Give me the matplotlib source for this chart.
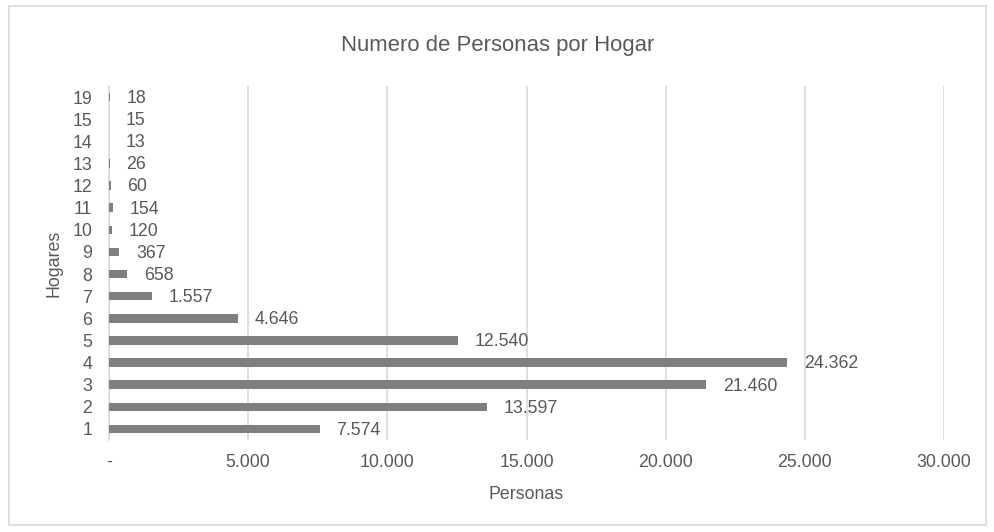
"""Numero de Personas por Hogar - horizontal bar chart."""

import matplotlib

matplotlib.use("Agg")
import matplotlib.pyplot as plt
from matplotlib.patches import Rectangle
from matplotlib.ticker import FuncFormatter

hogares = ["1", "2", "3", "4", "5", "6", "7", "8", "9", "10", "11", "12", "13", "14", "15", "19"]
personas = [7574, 13597, 21460, 24362, 12540, 4646, 1557, 658, 367, 120, 154, 60, 26, 13, 15, 18]

TEXT = "#595959"
GRID = "#d9d9d9"
BAR = "#7f7f7f"
FS = 12.8

plt.rcParams["font.family"] = ["Liberation Sans", "DejaVu Sans"]


def miles(v):
    # Spanish thousands separator, "-" for zero
    if v == 0:
        return "-"
    return f"{v:,.0f}".replace(",", ".")


fig = plt.figure(figsize=(9.95, 5.32), dpi=100)
fig.patches.append(Rectangle((9 / 995, 1 - 525 / 532), 977 / 995, 519 / 532,
                             transform=fig.transFigure, fill=False,
                             edgecolor=GRID, linewidth=1.2))
ax = fig.add_axes([109 / 995, 1 - 440 / 532, 835 / 995, 354 / 532])

ypos = list(range(len(hogares)))
ax.barh(ypos, personas, height=0.38, color=BAR, zorder=3)
for y, v in zip(ypos, personas):
    ax.annotate(miles(v), (v, y), xytext=(12, -1), textcoords="offset points",
                va="center", ha="left", fontsize=FS, color=TEXT)

ax.set_xlim(0, 30000)
ax.set_ylim(-0.5, len(hogares) - 0.5)
ax.set_xticks(range(0, 30001, 5000))
ax.xaxis.set_major_formatter(FuncFormatter(lambda v, _: miles(v)))
ax.set_yticks(ypos)
ax.set_yticklabels(hogares)
ax.tick_params(length=0, labelsize=FS, labelcolor=TEXT)
ax.tick_params(axis="x", pad=10)
ax.tick_params(axis="y", pad=12)
ax.grid(axis="x", color=GRID, linewidth=1.2, zorder=0)
for side in ["top", "right", "bottom"]:
    ax.spines[side].set_visible(False)
ax.spines["left"].set_color(GRID)
ax.spines["left"].set_linewidth(1.2)

ax.set_xlabel("Personas", fontsize=FS, color=TEXT, labelpad=11)
ax.set_ylabel("Hogares", fontsize=FS, color=TEXT)
ax.yaxis.set_label_coords(-(109 - 63) / 835, 0.5)
fig.text(0.5, 1 - 45 / 532, "Numero de Personas por Hogar", ha="center",
         va="center", fontsize=15.9, color=TEXT)

fig.savefig("out.png", dpi=100)
